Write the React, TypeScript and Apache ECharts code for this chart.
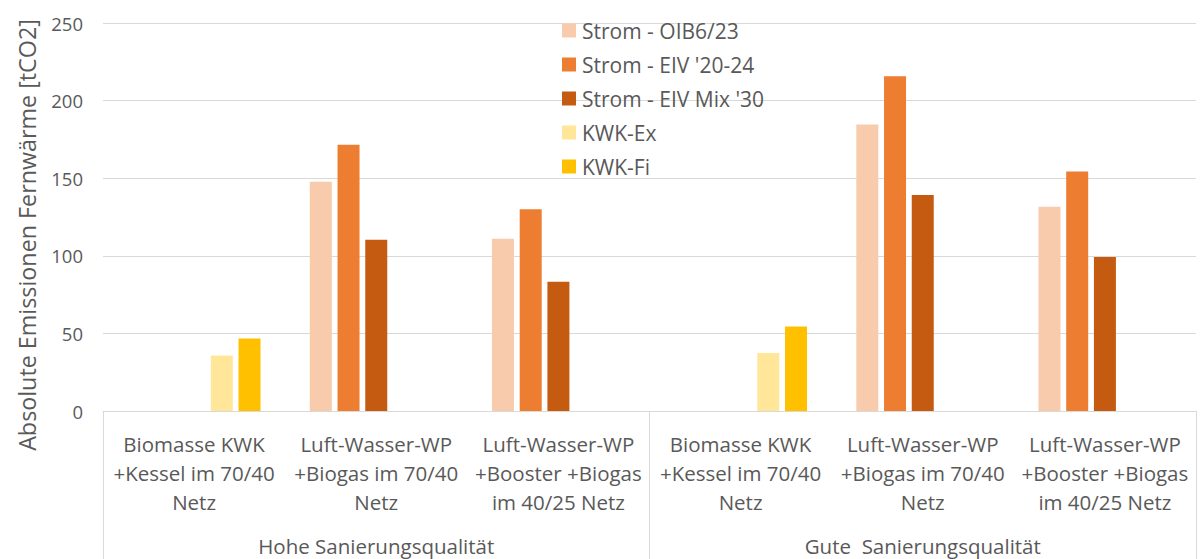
import React, { useEffect, useRef } from "react";
import * as echarts from "echarts";

const categories = [
  "Biomasse KWK\n+Kessel im 70/40\nNetz",
  "Luft-Wasser-WP\n+Biogas im 70/40\nNetz",
  "Luft-Wasser-WP\n+Booster +Biogas\nim 40/25 Netz",
  "Biomasse KWK\n+Kessel im 70/40\nNetz",
  "Luft-Wasser-WP\n+Biogas im 70/40\nNetz",
  "Luft-Wasser-WP\n+Booster +Biogas\nim 40/25 Netz",
];
const groups = ["Hohe Sanierungsqualität", "Gute  Sanierungsqualität"];
const seriesNames = ["Strom - OIB6/23", "Strom - EIV '20-24", "Strom - EIV Mix '30", "KWK-Ex", "KWK-Fi"];
const stromOIB = [null, 147.7, 111, null, 184.6, 131.6];
const stromEIV = [null, 171.5, 130, null, 215.7, 154.3];
const stromMix = [null, 110.4, 83.3, null, 139.1, 99.2];
const kwkEx = [35.7, null, null, 37.3, null, null];
const kwkFi = [46.7, null, null, 54.4, null, null];
const yTicks = [0, 50, 100, 150, 200, 250];
const colors = ["#F8CBAD", "#ED7D31", "#C55A11", "#FFE699", "#FFC000"];
const yTitle = "Absolute Emissionen Fernwärme [tCO2]";

const FONT = "Open Sans";
const TXT = "#595959";
const GRID = "#D9D9D9";

export default function App() {
  const ref = useRef<HTMLDivElement>(null);
  useEffect(() => {
    const chart = echarts.init(ref.current!, null, { renderer: "svg" });
    const data = [stromOIB, stromEIV, stromMix, kwkEx, kwkFi];
    chart.setOption({
      animation: false,
      textStyle: { fontFamily: FONT },
      grid: { left: 103, right: 4, top: 23, bottom: 148, containLabel: false },
      legend: {
        orient: "vertical",
        left: 562,
        top: 20,
        padding: 0,
        itemWidth: 14,
        itemHeight: 14,
        itemGap: 13,
        icon: "rect",
        selectedMode: false,
        textStyle: { color: TXT, fontSize: 21, fontFamily: FONT, lineHeight: 19, padding: [0, 0, 0, 1] },
        data: seriesNames,
      },
      xAxis: [
        {
          type: "category",
          data: categories,
          axisLine: { lineStyle: { color: GRID, width: 1 } },
          axisTick: { show: false },
          axisLabel: {
            interval: 0,
            color: TXT,
            fontSize: 20.5,
            fontFamily: FONT,
            lineHeight: 29,
            margin: 18,
          },
        },
        {
          type: "category",
          data: groups,
          position: "bottom",
          axisLine: { show: false },
          axisTick: { show: true, length: 150, lineStyle: { color: GRID, width: 1 } },
          axisLabel: {
            interval: 0,
            color: TXT,
            fontSize: 20.5,
            fontFamily: FONT,
            lineHeight: 20,
            margin: 125,
          },
        },
      ],
      yAxis: {
        type: "value",
        min: yTicks[0],
        max: yTicks[yTicks.length - 1],
        interval: 50,
        axisLine: { show: false },
        axisTick: { show: false },
        splitLine: { lineStyle: { color: GRID, width: 1 } },
        axisLabel: { color: TXT, fontSize: 18.5, fontFamily: FONT, margin: 20 },
      },
      graphic: [
        {
          type: "text",
          x: 27,
          y: 235,
          rotation: Math.PI / 2,
          style: {
            text: yTitle,
            fill: TXT,
            fontSize: 23.3,
            fontFamily: FONT,
            align: "center",
            verticalAlign: "middle",
          },
        },
      ],
      series: seriesNames.map((name, i) => ({
        name,
        type: "bar",
        data: data[i],
        barWidth: 22,
        barGap: "26%",
        itemStyle: { color: colors[i] },
      })),
    });
    return () => chart.dispose();
  }, []);
  return (
    <div
      ref={ref}
      style={{ position: "fixed", left: 0, top: 0, width: 1200, height: 559, background: "#fff" }}
    />
  );
}
